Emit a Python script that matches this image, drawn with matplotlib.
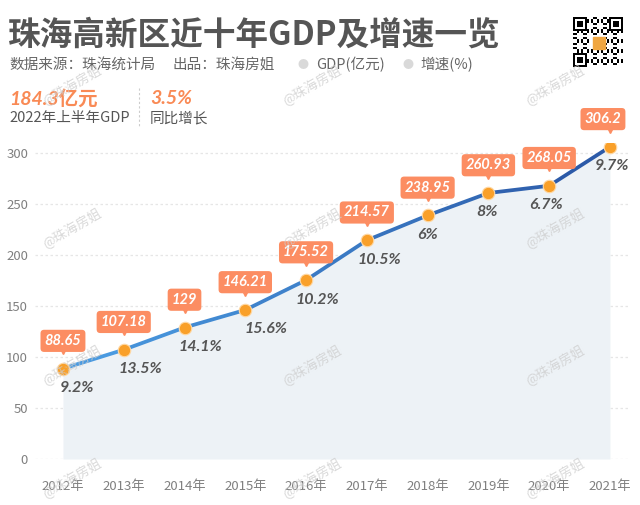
import numpy as np
import matplotlib
matplotlib.use('Agg')
import matplotlib.pyplot as plt
from matplotlib.collections import LineCollection
from matplotlib.colors import LinearSegmentedColormap
from matplotlib.transforms import offset_copy

plt.rcParams['font.family'] = ['Noto Sans CJK SC', 'DejaVu Sans']

# Data
years = [2012, 2013, 2014, 2015, 2016, 2017, 2018, 2019, 2020, 2021]
year_labels = [f'{y}年' for y in years]
gdp = [88.65, 107.18, 129, 146.21, 175.52, 214.57, 238.95, 260.93, 268.05, 306.2]
gdp_labels = ['88.65', '107.18', '129', '146.21', '175.52', '214.57', '238.95', '260.93', '268.05', '306.2']
growth_labels = ['9.2%', '13.5%', '14.1%', '15.6%', '10.2%', '10.5%', '6%', '8%', '6.7%', '9.7%']
yticks = [0, 50, 100, 150, 200, 250, 300]

# label nudges (px) so they sit like the original
label_dx = [14, 17, 16, 21, 11, 12, 0, -1, -3, 2]
box_dx = [0, 0, 0, 0, 0, 0, 0, 0, 0, -7]

W, H = 640, 505
fig = plt.figure(figsize=(6.4, 5.05), dpi=100)
fig.patch.set_facecolor('white')

def fx(x): return x / W
def fy(y): return 1 - y / H

ax = fig.add_axes([fx(35), fy(459), (630 - 35) / W, 316 / H])
ax.set_xlim(2011.54, 2021.33)
ax.set_ylim(0, 310)
for s in ax.spines.values():
    s.set_visible(False)

ax.set_yticks(yticks)
ax.set_xticks(years)
ax.set_xticklabels(year_labels)
ax.tick_params(length=0, colors='#808080', labelsize=9.5)
ax.tick_params(axis='x', pad=15)
ax.tick_params(axis='y', pad=5)
for t in yticks:
    ax.axhline(t, color='#e6e6e6', lw=0.9, ls=(0, (2, 2)), zorder=0)

# area
ax.fill_between(years, gdp, 0, color='#edf2f6', lw=0, zorder=1)

# gradient line
pts = np.column_stack([years, gdp])
segs = np.stack([pts[:-1], pts[1:]], axis=1)
cmap = LinearSegmentedColormap.from_list('b', ['#4a9ae0', '#2c5aa8'])
lc = LineCollection(segs, colors=cmap(np.linspace(0, 1, len(segs))), lw=2.7,
                    capstyle='round', joinstyle='round', zorder=3)
ax.add_collection(lc)
ax.plot(years, gdp, 'o', color='#f9a02a', ms=9, mec='#ffd9a6', mew=0.8, zorder=4)

num_font = ['Lato', 'DejaVu Sans']
box_c = '#fc8d62'
for i, (x, v) in enumerate(zip(years, gdp)):
    ax.annotate(gdp_labels[i], (x, v), xytext=(box_dx[i] * 0.72, 20), textcoords='offset points',
                ha='center', va='center', color='white', fontsize=10.5,
                fontweight='bold', style='italic', family=num_font, zorder=6,
                bbox=dict(boxstyle='round,pad=0.28,rounding_size=0.25', fc=box_c, ec='none'),
                annotation_clip=False)
    tri = offset_copy(ax.transData, fig=fig, x=0, y=12.5, units='points')
    ax.plot([x], [v], marker='v', color=box_c, ms=5, transform=tri, zorder=5, clip_on=False)
    ax.annotate(growth_labels[i], (x, v), xytext=(label_dx[i] * 0.72, -14),
                textcoords='offset points', ha='center', va='center', color='#555555',
                fontsize=11.5, fontweight='bold', style='italic', family=num_font, zorder=6,
                annotation_clip=False)

# header
fig.text(fx(8), fy(35), '珠海高新区近十年GDP及增速一览', fontsize=23.5, fontweight='bold',
         color='#555555', va='center', ha='left')
fig.text(fx(9), fy(65), '数据来源：珠海统计局', fontsize=10.5, color='#666666', va='center')
fig.text(fx(172), fy(65), '出品：珠海房姐', fontsize=10.5, color='#666666', va='center')
fig.text(fx(303), fy(65), '●', fontsize=8, color='#d9d9d9', va='center', ha='center')
fig.text(fx(316), fy(65), 'GDP(亿元)', fontsize=10.5, color='#666666', va='center')
fig.text(fx(408), fy(65), '●', fontsize=8, color='#d9d9d9', va='center', ha='center')
fig.text(fx(420), fy(65), '增速(%)', fontsize=10.5, color='#666666', va='center')

fig.text(fx(9), fy(98), '184.3亿元', fontsize=14, fontweight='bold', style='italic',
         color='#f98a55', va='center', family=num_font + ['Noto Sans CJK SC'])
fig.text(fx(9), fy(118), '2022年上半年GDP', fontsize=10.5, color='#555555', va='center')
fig.text(fx(150), fy(98), '3.5%', fontsize=14, fontweight='bold', style='italic',
         color='#f98a55', va='center', family=num_font)
fig.text(fx(150), fy(118), '同比增长', fontsize=10.5, color='#555555', va='center')
fig.add_artist(plt.Line2D([fx(139), fx(139)], [fy(88), fy(126)], color='#cccccc',
                          lw=0.8, ls=(0, (2, 2))))

# watermarks
for wx in (72, 312, 555):
    for wy in (85, 228, 365, 478):
        fig.text(fx(wx), fy(wy), '@珠海房姐', fontsize=9.5, color='#cccccc', alpha=0.75,
                 rotation=30, ha='center', va='center', zorder=10)

# QR-like badge
qax = fig.add_axes([fx(573), fy(67), 50 / W, 50 / H])
n = 25
q = np.zeros((n, n))
for i in range(n):
    for j in range(n):
        q[i, j] = 1 if ((i * 7 + j * 11 + i * j) % 5) < 2 else 0
for (r, c) in [(0, 0), (0, n - 7), (n - 7, 0)]:
    q[r:r + 7, c:c + 7] = 1
    q[r + 1:r + 6, c + 1:c + 6] = 0
    q[r + 2:r + 5, c + 2:c + 5] = 1
q[9:16, 9:16] = 0
qax.imshow(1 - q, cmap='gray', interpolation='nearest', vmin=0, vmax=1)
qax.add_patch(plt.Rectangle((9.5, 9.5), 6, 6, color='#f0a640'))
qax.axis('off')

fig.savefig('out.png', dpi=100, facecolor='white')
